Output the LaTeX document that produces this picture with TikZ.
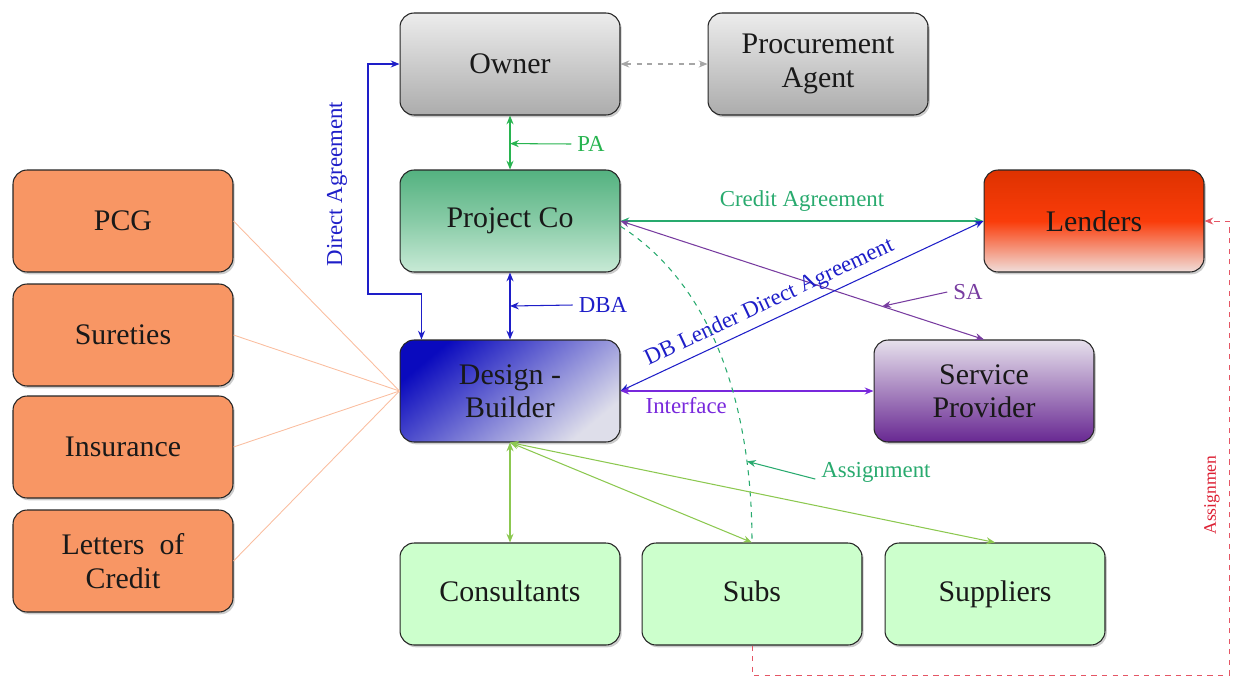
\documentclass[tikz,border=0pt]{standalone}
\usepackage{fontspec}
\setmainfont{Liberation Serif}
\usepackage{xcolor}
\usetikzlibrary{arrows.meta,shadows}

\definecolor{graytop}{RGB}{236,236,236}
\definecolor{graybot}{RGB}{172,172,172}
\definecolor{pcotop}{RGB}{84,178,128}
\definecolor{pcobot}{RGB}{200,234,214}
\definecolor{lendtop}{RGB}{222,50,0}
\definecolor{lendmid}{RGB}{250,60,10}
\definecolor{lendbot}{RGB}{240,222,218}
\definecolor{dbdark}{RGB}{10,10,190}
\definecolor{dblight}{RGB}{222,222,234}
\definecolor{sptop}{RGB}{230,224,236}
\definecolor{spbot}{RGB}{104,40,146}
\definecolor{subgreen}{RGB}{204,255,204}
\definecolor{guarorange}{RGB}{248,150,100}
\definecolor{pagreen}{RGB}{40,180,80}
\definecolor{dbablue}{RGB}{30,30,200}
\definecolor{creditteal}{RGB}{40,170,110}
\definecolor{sapurple}{RGB}{120,60,160}
\definecolor{ifviolet}{RGB}{120,40,220}
\definecolor{subline}{RGB}{140,200,80}
\definecolor{guarline}{RGB}{250,190,160}
\definecolor{assignred}{RGB}{220,30,50}

\begin{document}
\begin{tikzpicture}[x=0.02cm,y=-0.02cm,
  >={Stealth[length=5pt,width=4pt]},
  main node/.style={draw=black!85,line width=0.6pt,rounded corners=8pt,
    minimum width=4.4cm,minimum height=2.04cm,align=center,
    font=\fontsize{17}{19}\selectfont,text=black!90,
    drop shadow={shadow xshift=1pt,shadow yshift=-1.3pt,opacity=0.4}},
  gray node/.style={main node,top color=graytop,bottom color=graybot},
  sub node/.style={main node,fill=subgreen,text height=12pt,text depth=4pt},
  guar node/.style={main node,fill=guarorange},
  lbl/.style={font=\fontsize{13}{15}\selectfont},
  link/.style={<->,line width=0.6pt}]

  \useasboundingbox (0,0) rectangle (1233,677);

  % parties
  \node[gray node] (owner) at (510,64) {Owner};
  \node[gray node] (agent) at (818,64) {Procurement\\Agent};
  \node[main node,top color=pcotop,bottom color=pcobot,middle color=pcotop!55!pcobot] (projco) at (510,221) {Project Co};
  \node[main node,top color=lendtop,bottom color=lendbot,middle color=lendmid] (lenders) at (1094,221) {Lenders};
  \node[main node,top color=dbdark,bottom color=dblight,shading angle=40] (db) at (510,391) {Design -\\Builder};
  \node[main node,top color=sptop,bottom color=spbot] (provider) at (984,391) {Service\\Provider};

  \node[sub node] (cons) at (510,594) {Consultants};
  \node[sub node] (subs) at (752,594) {Subs};
  \node[sub node] (supp) at (995,594) {Suppliers};

  \node[guar node] (pcg) at (123,221) {PCG};
  \node[guar node] (sure) at (123,335) {Sureties};
  \node[guar node] (ins) at (123,447) {Insurance};
  \node[guar node] (loc) at (123,561) {Letters \ of\\Credit};

  % agreements
  \draw[link,gray!70,dashed] (owner.east) -- (agent.west);

  \draw[link,pagreen] (owner.south) -- (projco.north) coordinate[pos=0.52] (pamid);
  \node[lbl,text=pagreen] (pa) at (591,144) {PA};
  \draw[->,pagreen,line width=0.6pt] (pa.west) -- (pamid);

  \draw[link,dbablue] (projco.south) -- (db.north) coordinate[pos=0.5] (dbamid);
  \node[lbl,text=dbablue] (dba) at (603,305) {DBA};
  \draw[->,dbablue,line width=0.6pt] (dba.west) -- (dbamid);

  \draw[link,dbablue] (owner.west) -- (368,64) -- (368,294) -| ([xshift=0.44cm]db.north west);
  \node[lbl,text=dbablue,rotate=90] (direct) at (337,184) {Direct Agreement};

  \draw[link,creditteal] (projco.east) -- (lenders.west)
    node[midway,above,lbl,text=creditteal,yshift=2pt] {Credit Agreement};

  \draw[link,sapurple] (projco.east) -- (provider.north) coordinate[pos=0.72] (samid);
  \node[lbl,text=sapurple] (sa) at (968,292) {SA};
  \draw[->,sapurple,line width=0.6pt] (sa.west) -- (samid);

  \draw[link,dbablue] (db.east) -- (lenders.west)
    node[pos=0.43,sloped,above,lbl,text=dbablue] {DB Lender Direct Agreement};

  \draw[link,ifviolet] (db.east) -- (provider.west)
    node[pos=0.26,below,lbl,text=ifviolet] {Interface};

  \draw[creditteal,dashed,line width=0.6pt] ([yshift=-3pt]projco.east)
    .. controls (720,290) and (752,420) .. (subs.north) coordinate[pos=0.78] (asgmid);
  \node[lbl,text=creditteal] (asg) at (876,472) {Assignment};
  \draw[->,creditteal,line width=0.6pt] ([yshift=-4pt]asg.west) -- (asgmid);

  % supply chain
  \foreach \s in {cons,subs,supp}
    \draw[link,subline] (db.south) -- (\s.north);

  % security package
  \foreach \g in {pcg,sure,ins,loc}
    \draw[guarline,line width=0.5pt] (\g.east) -- (db.west);

  \draw[->,assignred!75,dashed,line width=0.5pt] (subs.south) -- (752,675) -- (1229,675) |- (lenders.east);
  \node[text=assignred,rotate=90,font=\fontsize{10}{12}\selectfont] (assignr) at (1212,495) {Assignmen};

\end{tikzpicture}
\end{document}
